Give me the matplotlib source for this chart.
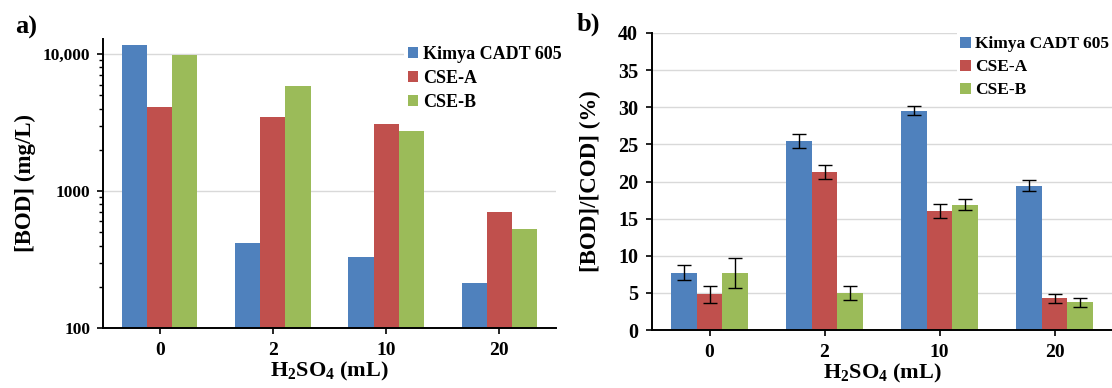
import matplotlib
matplotlib.use("Agg")
import matplotlib.pyplot as plt
import numpy as np
from matplotlib.ticker import FixedLocator, FixedFormatter, LogLocator, NullFormatter

plt.rcParams['font.family'] = ['Liberation Serif', 'DejaVu Serif']
plt.rcParams['font.weight'] = 'bold'
plt.rcParams['mathtext.default'] = 'regular'

categories = ['0', '2', '10', '20']
series = ['Kimya CADT 605', 'CSE-A', 'CSE-B']
colors = ['#4F81BD', '#C0504D', '#9BBB59']

bod_kimya = [11600, 415, 330, 213]
bod_csea = [4100, 3480, 3080, 703]
bod_cseb = [9850, 5900, 2740, 529]

ratio_kimya = [7.7, 25.45, 29.55, 19.45]
ratio_csea = [4.8, 21.3, 16.0, 4.25]
ratio_cseb = [7.65, 4.95, 16.9, 3.75]
err_kimya = [1.0, 1.0, 0.6, 0.7]
err_csea = [1.15, 0.95, 0.95, 0.6]
err_cseb = [2.0, 0.95, 0.8, 0.6]

W, H = 1112, 388
fig = plt.figure(figsize=(W / 100, H / 100), dpi=100)

def fx(px):
    return px / W

def fy(py):
    return (H - py) / H

ax1 = fig.add_axes([fx(103), fy(328), fx(556) - fx(103), fy(39) - fy(328)])
ax2 = fig.add_axes([fx(652), fy(330), fx(1112) - fx(652), fy(33) - fy(330)])

x = np.arange(len(categories))
bw = 0.222
offsets = [-bw, 0, bw]

# Panel a
for vals, off, c, lab in zip([bod_kimya, bod_csea, bod_cseb], offsets, colors, series):
    ax1.bar(x + off, vals, width=bw, color=c, label=lab, zorder=2)
ax1.set_yscale('log')
ax1.set_ylim(100, 12900)
ax1.set_xlim(-0.5, 3.5)
ax1.yaxis.set_major_locator(FixedLocator([100, 1000, 10000]))
ax1.yaxis.set_major_formatter(FixedFormatter(['100', '1000', '10,000']))
ax1.yaxis.set_minor_locator(LogLocator(base=10, subs=np.arange(2, 10)))
ax1.yaxis.set_minor_formatter(NullFormatter())
ax1.grid(axis='y', which='major', color='#d9d9d9', linewidth=1, zorder=0)
ax1.set_ylabel('[BOD] (mg/L)', fontsize=16.5, fontweight='bold', labelpad=5)

# Panel b
for vals, errs, off, c, lab in zip([ratio_kimya, ratio_csea, ratio_cseb],
                                    [err_kimya, err_csea, err_cseb], offsets, colors, series):
    ax2.bar(x + off, vals, width=bw, color=c, label=lab, zorder=2)
    ax2.errorbar(x + off, vals, yerr=errs, fmt='none', ecolor='black',
                 elinewidth=1, capsize=5, capthick=1, zorder=3)
ax2.set_ylim(0, 40)
ax2.set_xlim(-0.5, 3.5)
ax2.set_yticks(np.arange(0, 41, 5))
ax2.grid(axis='y', color='#d9d9d9', linewidth=1, zorder=0)
ax2.set_ylabel('[BOD]/[COD] (%)', fontsize=16.5, fontweight='bold', labelpad=12)

for ax in (ax1, ax2):
    ax.set_axisbelow(True)
    ax.set_xticks(x)
    ax.set_xticklabels(categories)
    ax.set_xlabel('H$_2$SO$_4$ (mL)', fontsize=16, fontweight='bold', labelpad=1)
    for s in ('top', 'right'):
        ax.spines[s].set_visible(False)
    for s in ('left', 'bottom'):
        ax.spines[s].set_linewidth(1.4)
        ax.spines[s].set_color('black')
    ax.tick_params(axis='x', which='both', length=4, width=1.2, labelsize=14, pad=6)
    ax.tick_params(axis='y', which='major', length=4, width=1.2, pad=5)
    ax.tick_params(axis='y', which='minor', length=3, width=1.0)

ax1.tick_params(axis='y', labelsize=12.5)
ax2.tick_params(axis='y', labelsize=14.5, pad=6)

leg_kw = dict(loc='upper left', frameon=True, fancybox=False,
              handlelength=0.6, handleheight=0.6, handletextpad=0.25,
              labelspacing=0.4, borderpad=0.2, borderaxespad=0)
l1 = ax1.legend(bbox_to_anchor=(fx(404), fy(42)), bbox_transform=fig.transFigure,
                fontsize=13, **leg_kw)
l2 = ax2.legend(bbox_to_anchor=(fx(957), fy(33)), bbox_transform=fig.transFigure,
                fontsize=12.5, **leg_kw)
for lg in (l1, l2):
    lg.get_frame().set_edgecolor('none')
    lg.get_frame().set_facecolor('white')
    lg.get_frame().set_alpha(1)
    for t in lg.get_texts():
        t.set_fontweight('bold')

fig.text(fx(15), fy(27), 'a)', fontsize=19, fontweight='bold', va='center', ha='left')
fig.text(fx(577), fy(24), 'b)', fontsize=19, fontweight='bold', va='center', ha='left')

fig.savefig('out.png', dpi=100)
